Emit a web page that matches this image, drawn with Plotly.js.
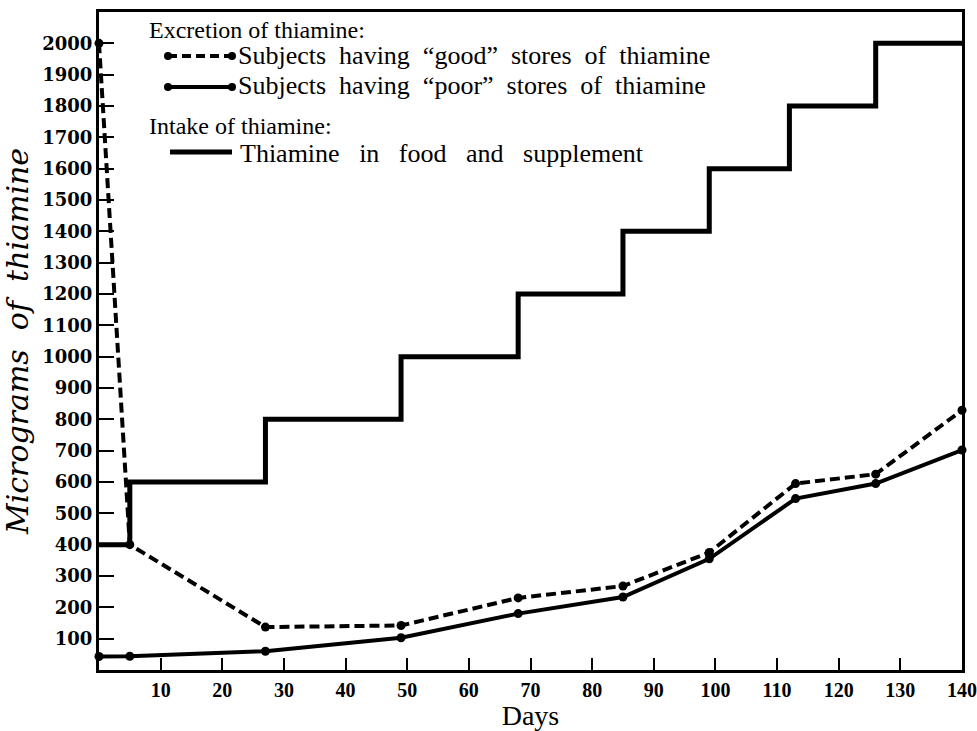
<!DOCTYPE html>
<html>
<head>
<meta charset="utf-8">
<script src="https://cdn.plot.ly/plotly-3.0.1.min.js"></script>
<style>html,body{margin:0;padding:0;background:#fff;}#chart{width:977px;height:731px;}</style>
</head>
<body>
<div id="chart"></div>
<script>
// Intake of thiamine (step line): day at which each level starts
const intakeDays = [0, 5, 27, 49, 68, 85, 99, 112, 126, 140];
const intakeValues = [400, 600, 800, 1000, 1200, 1400, 1600, 1800, 2000, 2000];

// Excretion: subjects having "good" stores
const goodDays = [0, 5, 27, 49, 68, 85, 99, 113, 126, 140];
const goodValues = [2000, 400, 137, 142, 230, 268, 375, 595, 625, 829];

// Excretion: subjects having "poor" stores
const poorDays = [0, 5, 27, 49, 68, 85, 99, 113, 126, 140];
const poorValues = [43, 44, 60, 103, 180, 233, 355, 547, 595, 702];

// Tick labels
const xTicks = [10, 20, 30, 40, 50, 60, 70, 80, 90, 100, 110, 120, 130, 140];
const yTicks = [100, 200, 300, 400, 500, 600, 700, 800, 900, 1000, 1100, 1200, 1300, 1400, 1500, 1600, 1700, 1800, 1900, 2000];

const legendHead1 = 'Excretion of thiamine:';
const legendGood = 'Subjects  having  \u201Cgood\u201D  stores  of  thiamine';
const legendPoor = 'Subjects  having  \u201Cpoor\u201D  stores  of  thiamine';
const legendHead2 = 'Intake of thiamine:';
const legendIntake = 'Thiamine\u00A0\u00A0 in\u00A0\u00A0 food\u00A0\u00A0 and\u00A0\u00A0 supplement';

const textFont = 'Liberation Serif, serif';
const tickFont = 'DejaVu Serif, serif';

const traces = [
  {
    x: intakeDays, y: intakeValues, type: 'scatter', mode: 'lines',
    line: {shape: 'hv', color: '#000', width: 5},
    name: legendIntake, showlegend: false, cliponaxis: false
  },
  {
    x: goodDays, y: goodValues, type: 'scatter', mode: 'lines+markers',
    line: {color: '#000', width: 4, dash: '10px,5px'},
    marker: {color: '#000', size: 9},
    name: legendGood, showlegend: false, cliponaxis: false
  },
  {
    x: poorDays, y: poorValues, type: 'scatter', mode: 'lines+markers',
    line: {color: '#000', width: 4},
    marker: {color: '#000', size: 9},
    name: legendPoor, showlegend: false, cliponaxis: false
  }
];

const W = 977, H = 731;
const L = 99, R = 15, T = 12, B = 61;
const pw = W - L - R, ph = H - T - B;
function px(x) { return (x - L) / pw; }
function py(y) { return (H - B - y) / ph; }

function ann(text, x, y, size, extra) {
  return Object.assign({
    text: text, xref: 'paper', yref: 'paper', x: px(x), y: py(y),
    xanchor: 'left', yanchor: 'middle', showarrow: false,
    font: {family: textFont, size: size, color: '#000'}
  }, extra || {});
}

const annotations = [
  ann(legendHead1, 147, 30, 24),
  ann(legendGood, 236, 56, 26),
  ann(legendPoor, 236, 86, 26),
  ann(legendHead2, 147, 126, 24),
  ann(legendIntake, 238, 153, 26)
];

function seg(x0, x1, y, width, dash) {
  return {type: 'line', xref: 'paper', yref: 'paper', x0: px(x0), x1: px(x1), y0: py(y), y1: py(y),
    line: {color: '#000', width: width, dash: dash || 'solid'}};
}
function dot(x, y) {
  const r = 4;
  return {type: 'circle', xref: 'paper', yref: 'paper', x0: px(x - r), x1: px(x + r), y0: py(y + r), y1: py(y - r),
    fillcolor: '#000', line: {color: '#000', width: 0}};
}
const shapes = [
  seg(168, 232, 56, 4, '9px,5px'), dot(168, 56), dot(232, 56),
  seg(168, 232, 87, 4), dot(168, 87), dot(232, 87),
  seg(170, 232, 152, 5)
];

const layout = {
  width: W, height: H,
  margin: {l: L, r: R, t: T, b: B, pad: 0},
  paper_bgcolor: '#fff', plot_bgcolor: '#fff',
  showlegend: false,
  xaxis: {
    range: [0, 140], tickvals: xTicks, ticktext: xTicks.map(String),
    ticks: 'inside', ticklen: 12, tickwidth: 2, tickcolor: '#000',
    showline: true, linecolor: '#000', linewidth: 3, mirror: true,
    showgrid: false, zeroline: false, ticklabeloverflow: 'allow',
    tickfont: {family: textFont, size: 20, color: '#000', weight: 'bold'},
    title: {text: 'Days', font: {family: textFont, size: 28, color: '#000'}, standoff: 2}
  },
  yaxis: {
    range: [0, 2100], tickvals: yTicks, ticktext: yTicks.map(String),
    ticks: 'inside', ticklen: 15, tickwidth: 2, tickcolor: '#000',
    showline: true, linecolor: '#000', linewidth: 3, mirror: true,
    showgrid: false, zeroline: false, ticklabeloverflow: 'allow',
    tickfont: {family: tickFont, size: 18, color: '#000', weight: 'bold'},
    title: {text: '<i>Micrograms  of  thiamine</i>', font: {family: tickFont, size: 30, color: '#000'}, standoff: 6}
  },
  annotations: annotations,
  shapes: shapes
};

Plotly.newPlot('chart', traces, layout, {displayModeBar: false, staticPlot: true});
</script>
</body>
</html>
